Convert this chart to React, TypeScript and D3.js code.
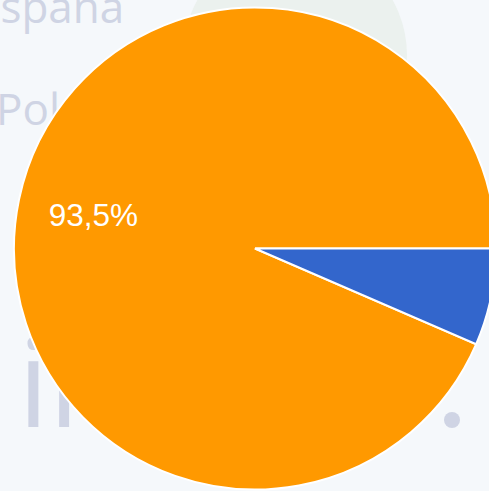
import React from "react";
import * as d3 from "d3";

const categories = ["Sí", "No"];
const values = [93.5, 6.5];
const labels = ["93,5%", ""];
const colors = ["#ff9900", "#3366cc"];

const W = 489;
const H = 491;

export default function App() {
  const cx = 255;
  const cy = 248.5;
  const r = 241;
  const blueEndDeg = 90 + (values[1] / 100) * 360;
  const pie = d3
    .pie<number>()
    .sort(null)
    .value((d) => d)
    .startAngle((blueEndDeg * Math.PI) / 180)
    .endAngle((blueEndDeg * Math.PI) / 180 + 2 * Math.PI);
  const arcs = pie(values);
  const arc = d3.arc<d3.PieArcDatum<number>>().innerRadius(0).outerRadius(r);
  const labelArc = d3
    .arc<d3.PieArcDatum<number>>()
    .innerRadius(r * 0.685)
    .outerRadius(r * 0.685);

  const bgText = "#cfd4e4";
  return (
    <svg
      width={W}
      height={H}
      style={{ position: "fixed", left: 0, top: 0, display: "block" }}
    >
      <rect x={0} y={0} width={W} height={H} fill="#f5f8fb" />
      <circle cx={295} cy={55} r={112} fill="#ebf1ee" />
      <text
        x={-24}
        y={23}
        fontFamily="'Open Sans', sans-serif"
        fontSize={44}
        fill={bgText}
      >
        España
      </text>
      <text
        x={-4}
        y={125}
        fontFamily="'Open Sans', sans-serif"
        fontSize={44}
        fill={bgText}
      >
        Polonia
      </text>
      <text
        x={18}
        y={427}
        fontFamily="'Open Sans', sans-serif"
        fontSize={122}
        fill={bgText}
      >
        in
      </text>
      <circle cx={452} cy={420} r={8} fill={bgText} />
      <g transform={`translate(${cx},${cy})`}>
        {arcs.map((a, i) => (
          <path
            key={categories[i]}
            d={arc(a) || ""}
            fill={colors[i]}
            stroke="#ffffff"
            strokeWidth={2}
          />
        ))}
        {arcs.map((a, i) => {
          const [lx, ly] = labelArc.centroid(a);
          return labels[i] ? (
            <text
              key={"l" + i}
              x={lx}
              y={ly}
              dy="0.35em"
              textAnchor="middle"
              fontFamily="'Liberation Sans', Arial, sans-serif"
              fontSize={31.5}
              fill="#ffffff"
            >
              {labels[i]}
            </text>
          ) : null;
        })}
      </g>
    </svg>
  );
}
